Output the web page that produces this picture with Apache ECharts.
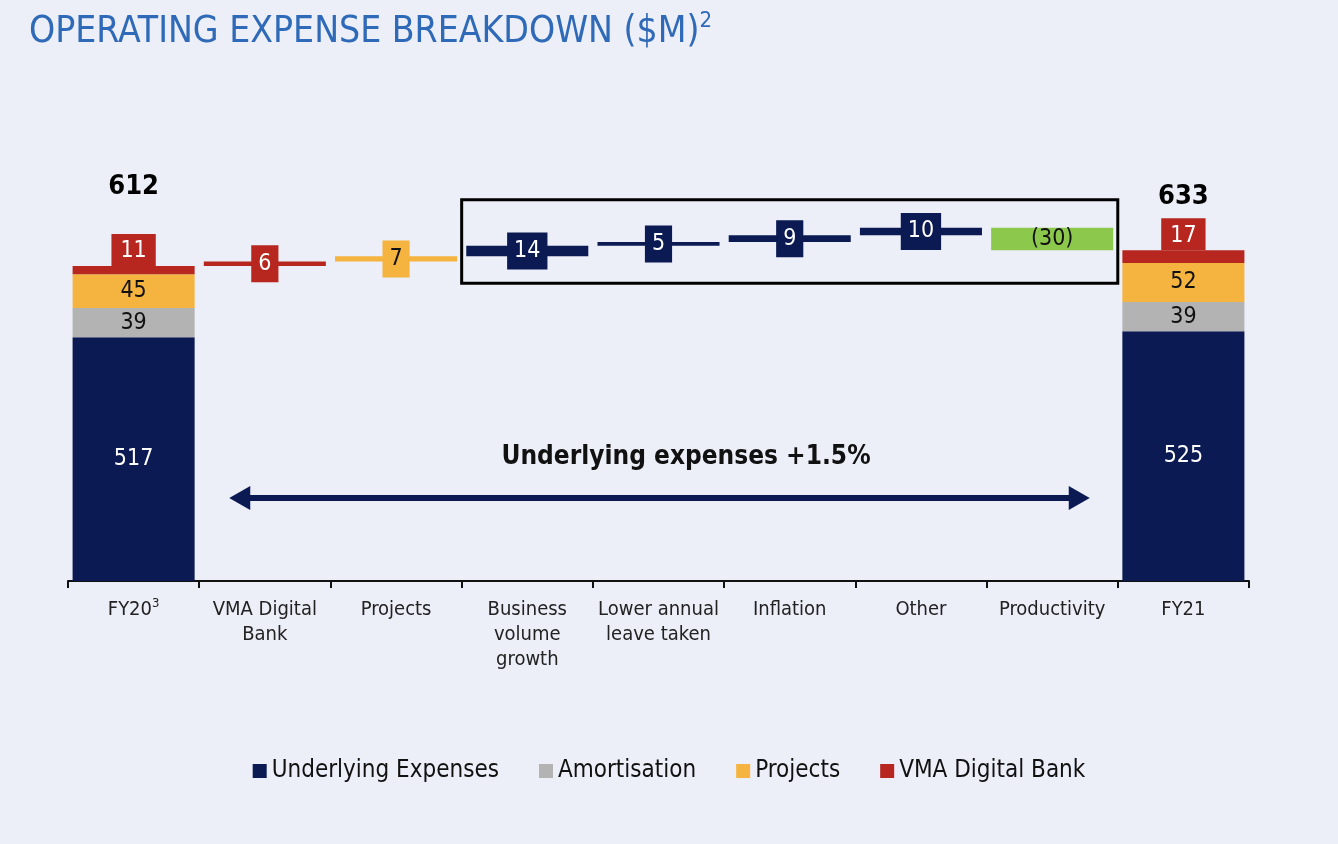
<!DOCTYPE html>
<html><head><meta charset="utf-8">
<script src="https://cdn.jsdelivr.net/npm/echarts@6/dist/echarts.min.js"></script>
<style>html,body{margin:0;padding:0;background:#eceef8}#c{width:1338px;height:844px}</style>
</head><body><div id="c"></div>
<script>
// ---- data ----
const categories = ['FY20', 'VMA Digital\nBank', 'Projects', 'Business\nvolume\ngrowth', 'Lower annual\nleave taken', 'Inflation', 'Other', 'Productivity', 'FY21'];
const underlying = [517, 525];
const amortisation = [39, 39];
const projects = [45, 52];
const vmaDigital = [11, 17];
const totals = [612, 633];
const deltas = [6, 7, 14, 5, 9, 10, -30];

// ---- styles ----
const FONT = "'DejaVu Sans Condensed', 'Liberation Sans Narrow', 'DejaVu Sans', sans-serif";
const NAVY = '#0b1a52', GREY = '#b3b3b3', YELLOW = '#f5b43f', RED = '#b7261f', GREEN = '#8cc84b';
const deltaColors = [RED, YELLOW, NAVY, NAVY, NAVY, NAVY, GREEN];

const n = categories.length;
const ends = arr => { const a = new Array(n).fill('-'); a[0] = arr[0]; a[n - 1] = arr[1]; return a; };

// waterfall
const baseData = new Array(n).fill('-');
const deltaData = new Array(n).fill('-');
let cum = totals[0];
deltas.forEach((d, i) => {
  const lo = d >= 0 ? cum : cum + d;
  baseData[i + 1] = lo;
  const green = deltaColors[i] === GREEN;
  const dark = deltaColors[i] === NAVY || deltaColors[i] === RED;
  deltaData[i + 1] = {
    value: Math.abs(d),
    itemStyle: { color: deltaColors[i] },
    label: green ? { backgroundColor: 'transparent', color: '#111', padding: 0 } :
      { backgroundColor: deltaColors[i], color: dark ? '#fff' : '#111' }
  };
  cum += d;
});

const compLabel = (color) => ({ show: true, position: 'inside', color, fontSize: 23, fontFamily: FONT });

const option = {
  backgroundColor: '#eceef8',
  animation: false,
  title: {
    text: '{a|OPERATING EXPENSE BREAKDOWN ($M)}{s|2}',
    left: 24, top: 5,
    textStyle: {
      fontWeight: 'normal',
      rich: {
        a: { fontFamily: FONT, fontSize: 37, fontWeight: 'normal', color: '#2e6ab8', lineHeight: 44 },
        s: { fontFamily: FONT, fontSize: 22, fontWeight: 'normal', color: '#2e6ab8', verticalAlign: 'top', lineHeight: 22 }
      }
    }
  },
  legend: {
    bottom: 56, left: 'center',
    data: ['Underlying Expenses', 'Amortisation', 'Projects', 'VMA Digital Bank'],
    icon: 'rect', itemWidth: 14, itemHeight: 14, itemGap: 40,
    textStyle: { fontFamily: FONT, fontSize: 24, color: '#111', padding: [0, 0, 0, 0] }
  },
  grid: { left: 68, right: 89, top: 181, height: 400 },
  xAxis: {
    type: 'category', data: categories,
    axisLine: { lineStyle: { color: '#111', width: 2 } },
    axisTick: { show: true, length: 7, lineStyle: { color: '#111', width: 2 } },
    axisLabel: {
      interval: 0, margin: 16, color: '#222', fontFamily: FONT, fontSize: 20, lineHeight: 25,
      formatter: (v, i) => i === 0 ? '{a|FY20}{s|3}' : v,
      rich: {
        a: { fontFamily: FONT, fontSize: 20, color: '#222', lineHeight: 25 },
        s: { fontFamily: FONT, fontSize: 13, color: '#222', verticalAlign: 'top', lineHeight: 12 }
      }
    }
  },
  yAxis: { type: 'value', min: 192, max: 192 + 400 / 0.75, show: false, splitLine: { show: false } },
  series: [
    { name: 'Underlying Expenses', type: 'bar', stack: 'all', barCategoryGap: '7%', data: ends(underlying),
      itemStyle: { color: NAVY }, label: compLabel('#fff') },
    { name: 'Amortisation', type: 'bar', stack: 'all', data: ends(amortisation),
      itemStyle: { color: GREY }, label: compLabel('#111') },
    { name: 'Projects', type: 'bar', stack: 'all', data: ends(projects),
      itemStyle: { color: YELLOW }, label: compLabel('#111') },
    { name: 'VMA Digital Bank', type: 'bar', stack: 'all', data: ends(vmaDigital),
      itemStyle: { color: RED },
      label: { show: true, position: 'top', distance: 0, color: '#fff', fontSize: 23, fontFamily: FONT,
        backgroundColor: RED, padding: [6, 9, 3, 9] } },
    { name: 'base', type: 'bar', stack: 'all', data: baseData, itemStyle: { color: 'transparent' }, silent: true },
    { name: 'delta', type: 'bar', stack: 'all', data: deltaData,
      label: { show: true, position: 'inside', fontSize: 23, fontFamily: FONT, padding: [8, 7, 6, 7],
        formatter: p => { const d = deltas[p.dataIndex - 1]; return d < 0 ? '(' + Math.abs(d) + ')' : String(d); } } },
    { name: 'total', type: 'scatter', symbolSize: 0, silent: true, itemStyle: { opacity: 1 },
      data: [
        { value: [0, totals[0]], label: { distance: 66 } },
        { value: [n - 1, totals[1]], label: { distance: 40 } }
      ],
      label: { show: true, position: 'top', fontSize: 27, fontWeight: 'bold', color: '#000', fontFamily: FONT,
        formatter: p => String(p.value[1]) } }
  ]
};

const chart = echarts.init(document.getElementById('c'));
chart.setOption(option);

// annotations (positioned from the axes)
const xc = i => chart.convertToPixel({ xAxisIndex: 0 }, i);
const yv = v => chart.convertToPixel({ yAxisIndex: 0 }, v);
const band = xc(1) - xc(0);
let hi = -Infinity, lo = Infinity, c2 = totals[0];
deltas.forEach((d, i) => { if (i >= 2) { hi = Math.max(hi, c2, c2 + d); lo = Math.min(lo, c2, c2 + d); } c2 += d; });
const rx0 = xc(3) - band / 2, rx1 = xc(7) + band / 2;
const ry0 = yv(hi) - 28, ry1 = yv(lo) + 27;
const ax0 = xc(1) - band / 2 + 30, ax1 = xc(7) + band / 2 - 28, ay = 498;
chart.setOption({
  graphic: [
    { type: 'rect', shape: { x: rx0, y: ry0, width: rx1 - rx0, height: ry1 - ry0 },
      style: { fill: 'none', stroke: '#000', lineWidth: 3 }, z: 10 },
    { type: 'line', shape: { x1: ax0 + 14, y1: ay, x2: ax1 - 14, y2: ay }, style: { stroke: NAVY, lineWidth: 6 } },
    { type: 'polygon', shape: { points: [[ax0, ay], [ax0 + 21, ay - 12], [ax0 + 21, ay + 12]] }, style: { fill: NAVY } },
    { type: 'polygon', shape: { points: [[ax1, ay], [ax1 - 21, ay - 12], [ax1 - 21, ay + 12]] }, style: { fill: NAVY } },
    { type: 'text', x: 686, y: 457, style: { text: 'Underlying expenses +1.5%', font: "bold 26px " + FONT,
      fill: '#111', textAlign: 'center', textVerticalAlign: 'middle' } }
  ]
});
</script></body></html>
